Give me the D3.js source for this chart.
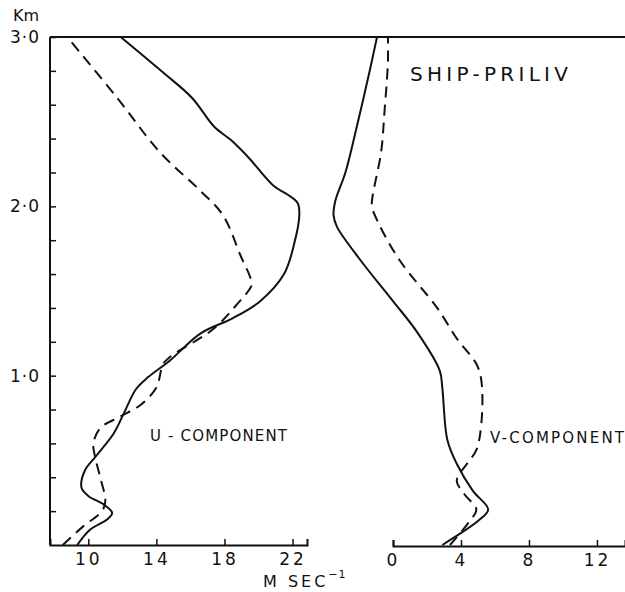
<!DOCTYPE html>
<html>
<head>
<meta charset="utf-8">
<script src="https://cdn.jsdelivr.net/npm/d3@7"></script>
<style>
  body { margin: 0; background: #fff; }
  svg text { font-family: 'DejaVu Sans', sans-serif; fill: #111; }
</style>
</head>
<body>
<svg id="chart"></svg>
<script>
(function () {
    'use strict';

    // heights (km) and speeds (m/s)
    var uSolidHeight = [0, 0.09, 0.15, 0.19, 0.24, 0.29, 0.34, 0.44, 0.53, 0.66, 0.78, 0.92, 0.99, 1.09, 1.25, 1.34, 1.44, 1.6, 1.78, 1.95, 2.02, 2.07, 2.12, 2.29, 2.39, 2.47, 2.64, 2.79, 3.0];
    var uSolidSpeed = [9.35, 10.1, 11.1, 11.4, 10.9, 10.0, 9.6, 9.8, 10.5, 11.5, 12.1, 12.8, 13.5, 14.8, 16.6, 18.5, 20.1, 21.5, 22.1, 22.4, 22.3, 21.7, 20.9, 19.4, 18.4, 17.4, 16.1, 14.4, 11.9];

    var uDashedHeight = [0, 0.11, 0.2, 0.26, 0.4, 0.52, 0.6, 0.69, 0.76, 0.83, 0.93, 1.07, 1.11, 1.28, 1.44, 1.5, 1.54, 1.72, 1.95, 2.09, 2.32, 2.64, 3.0];
    var uDashedSpeed = [8.5, 9.7, 10.8, 11.0, 10.7, 10.4, 10.3, 10.7, 11.9, 13.1, 14.0, 14.4, 14.8, 17.4, 18.9, 19.4, 19.6, 18.9, 17.9, 16.6, 14.2, 11.7, 8.76];

    var vSolidHeight = [0, 0.15, 0.21, 0.32, 0.48, 0.62, 0.93, 1.03, 1.26, 1.44, 1.68, 1.88, 1.95, 2.03, 2.2, 2.44, 2.81, 3.0];
    var vSolidSpeed = [2.9, 5.1, 5.6, 4.7, 3.75, 3.2, 2.9, 2.75, 1.4, 0, -1.9, -3.3, -3.5, -3.4, -2.8, -2.2, -1.35, -0.94];

    var vDashedHeight = [0, 0.14, 0.21, 0.3, 0.38, 0.48, 0.56, 0.72, 0.97, 1.07, 1.22, 1.4, 1.68, 1.91, 2.0, 2.06, 2.32, 2.56, 2.85, 3.0];
    var vDashedSpeed = [3.35, 4.5, 4.9, 4.2, 3.75, 4.35, 4.9, 5.2, 5.2, 4.9, 3.75, 2.6, 0.4, -0.9, -1.24, -1.2, -0.7, -0.5, -0.3, -0.3];

    var heightTicks = [1, 2, 3];
    var heightMinorTicks = [0.2, 0.4, 0.6, 0.8, 1.2, 1.4, 1.6, 1.8, 2.2, 2.4, 2.6, 2.8];
    var uTicks = [10, 14, 18, 22];
    var vTicks = [0, 4, 8, 12];

    var width = 625, height = 592;

    var chart = d3.select('#chart')
        .attr('width', width)
        .attr('height', height);

    var scaleY = d3.scaleLinear().domain([0, 3]).range([545, 37]);
    var scaleU = d3.scaleLinear().domain([7.75, 22.85]).range([50, 307]);
    var scaleV = d3.scaleLinear().domain([0, 13.65]).range([393, 625]);

    function zip(speeds, heights) {
        return speeds.map(function (s, i) { return [s, heights[i]]; });
    }

    function drawProfile(scaleX, speeds, heights, dashed) {
        var line = d3.line()
            .x(function (d) { return scaleX(d[0]); })
            .y(function (d) { return scaleY(d[1]); })
            .curve(d3.curveCatmullRom.alpha(0.5));

        chart.append('path')
            .datum(zip(speeds, heights))
            .attr('d', line)
            .attr('fill', 'none')
            .attr('stroke', '#111')
            .attr('stroke-width', 2)
            .attr('stroke-dasharray', dashed ? '11,7' : null);
    }

    // top frame line
    chart.append('line')
        .attr('x1', 50).attr('x2', width)
        .attr('y1', scaleY(3)).attr('y2', scaleY(3))
        .attr('stroke', '#111')
        .attr('stroke-width', 2);

    // height axis
    var yAxis = chart.append('g')
        .attr('transform', 'translate(50,0)')
        .call(d3.axisLeft(scaleY)
            .tickValues(heightTicks.concat(heightMinorTicks))
            .tickSize(-6)
            .tickPadding(10)
            .tickFormat(function (d) {
                return heightTicks.indexOf(d) >= 0 ? d3.format('.1f')(d).replace('.', '·') : '';
            }));

    // bottom axes
    var uAxis = chart.append('g')
        .attr('transform', 'translate(0,545)')
        .call(d3.axisBottom(scaleU).tickValues(uTicks).tickSize(-6).tickPadding(8));

    var vAxis = chart.append('g')
        .attr('transform', 'translate(0,546)')
        .call(d3.axisBottom(scaleV).tickValues(vTicks).tickSize(-6).tickPadding(8));

    [yAxis, uAxis, vAxis].forEach(function (g) {
        g.select('.domain').attr('stroke', '#111').attr('stroke-width', 2);
        g.selectAll('.tick line').attr('stroke', '#111').attr('stroke-width', 1.5);
        g.selectAll('.tick text')
            .attr('font-size', 17)
            .attr('font-family', 'DejaVu Sans, sans-serif')
            .attr('letter-spacing', 3)
            .attr('fill', '#111');
    });
    yAxis.selectAll('.tick text').attr('letter-spacing', 1).attr('dx', 0);
    yAxis.select('.domain').attr('d', 'M0,' + scaleY(0) + 'V' + scaleY(3));

    drawProfile(scaleU, uSolidSpeed, uSolidHeight, false);
    drawProfile(scaleU, uDashedSpeed, uDashedHeight, true);
    drawProfile(scaleV, vSolidSpeed, vSolidHeight, false);
    drawProfile(scaleV, vDashedSpeed, vDashedHeight, true);

    // labels
    chart.append('text')
        .attr('x', 13).attr('y', 21)
        .attr('font-size', 16)
        .text('Km');

    chart.append('text')
        .attr('x', 410).attr('y', 81)
        .attr('font-size', 20)
        .attr('textLength', 158)
        .attr('lengthAdjust', 'spacing')
        .text('SHIP-PRILIV');

    chart.append('text')
        .attr('x', 150).attr('y', 441)
        .attr('font-size', 15)
        .attr('textLength', 137)
        .attr('lengthAdjust', 'spacing')
        .text('U - COMPONENT');

    chart.append('text')
        .attr('x', 490).attr('y', 443)
        .attr('font-size', 15)
        .attr('textLength', 134)
        .attr('lengthAdjust', 'spacing')
        .text('V-COMPONENT');

    var unit = chart.append('text')
        .attr('x', 263).attr('y', 587)
        .attr('font-size', 16)
        .attr('letter-spacing', 3);
    unit.append('tspan').text('M SEC');
    unit.append('tspan')
        .attr('font-size', 11)
        .attr('dy', -9)
        .attr('letter-spacing', 1)
        .text('−1');
}());
</script>
</body>
</html>
